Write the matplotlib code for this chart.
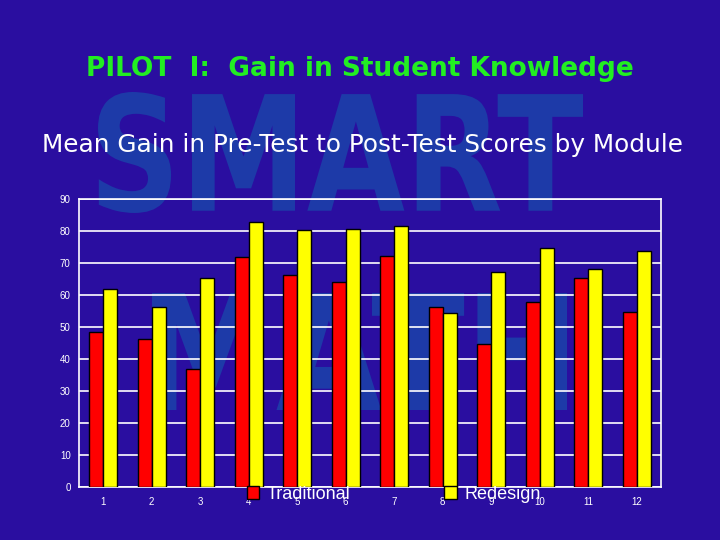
import matplotlib.pyplot as plt
import numpy as np
from matplotlib.patches import Patch, PathPatch
from matplotlib.textpath import TextPath
from matplotlib.font_manager import FontProperties
from matplotlib.transforms import Affine2D

modules = [str(i) for i in range(1, 13)]
traditional = [48.5, 46.4, 37.0, 72.0, 66.4, 64.2, 72.3, 56.4, 44.8, 57.9, 65.4, 54.8]
redesign = [62.0, 56.4, 65.4, 82.9, 80.2, 80.5, 81.7, 54.5, 67.3, 74.8, 68.2, 73.9]
yticks = list(range(0, 100, 10))

bg = '#2a0ea0'
mark = '#1d3aa8'
W, H = 720, 540

fig = plt.figure(figsize=(7.2, 5.4), dpi=100)
fig.patch.set_facecolor(bg)


def watermark(word, x0, x1, y0, y1):
    # stretch the word into a box given in pixels from the top-left corner
    p = TextPath((0, 0), word, size=100, prop=FontProperties(family='DejaVu Sans', weight='bold'))
    ext = p.get_extents()
    sx = (x1 - x0) / W / ext.width
    sy = (y1 - y0) / H / ext.height
    tr = Affine2D().translate(-ext.x0, -ext.y0).scale(sx, sy).translate(x0 / W, 1 - y1 / H)
    fig.patches.append(PathPatch(tr.transform_path(p), color=mark, lw=0,
                                 transform=fig.transFigure, zorder=0))


watermark('SMART', 98, 583, 92, 213)
watermark('MATH', 152, 567, 293, 410)

fig.text(0.500, 0.873, 'PILOT  I:  Gain in Student Knowledge', color='#22ee22',
         fontsize=19, fontweight='bold', family=['DejaVu Sans'], ha='center', va='center')
fig.text(0.503, 0.731, 'Mean Gain in Pre-Test to Post-Test Scores by Module', color='white',
         fontsize=17.8, family=['DejaVu Sans'], ha='center', va='center')

ax = fig.add_axes([0.1097, 0.0981, 0.8083, 0.5333], zorder=2)
ax.set_facecolor('none')
x = np.arange(len(modules))
w = 0.29
ax.bar(x - w / 2, traditional, w, color='#ff0000', edgecolor='black', linewidth=1, zorder=3)
ax.bar(x + w / 2, redesign, w, color='#ffff00', edgecolor='black', linewidth=1, zorder=3)

ax.set_xlim(-0.5, len(modules) - 0.5)
ax.set_ylim(0, 90)
ax.set_yticks(yticks)
ax.set_xticks(x)
ax.set_xticklabels(modules)
ax.yaxis.grid(True, color='white', linewidth=1.2, zorder=1)
ax.set_axisbelow(True)
for s in ax.spines.values():
    s.set_color('white')
    s.set_linewidth(1.2)
ax.tick_params(length=0, colors='white', labelsize=7, pad=7)
ax.tick_params(axis='y', pad=6)
for lab in ax.get_xticklabels() + ax.get_yticklabels():
    lab.set_family(['Liberation Sans', 'DejaVu Sans'])

handles = [Patch(facecolor='#ff0000', edgecolor='black'),
           Patch(facecolor='#ffff00', edgecolor='black')]
leg = fig.legend(handles, ['Traditional', 'Redesign'], ncol=2, frameon=False,
                 loc='center left', bbox_to_anchor=(0.32, 0.085),
                 handlelength=0.7, handleheight=0.7, handletextpad=0.4, columnspacing=5.2,
                 prop={'family': ['Liberation Sans', 'DejaVu Sans'], 'size': 13})
leg.set_zorder(5)
for t in leg.get_texts():
    t.set_color('white')

fig.savefig('out.png', dpi=100, facecolor=bg)
